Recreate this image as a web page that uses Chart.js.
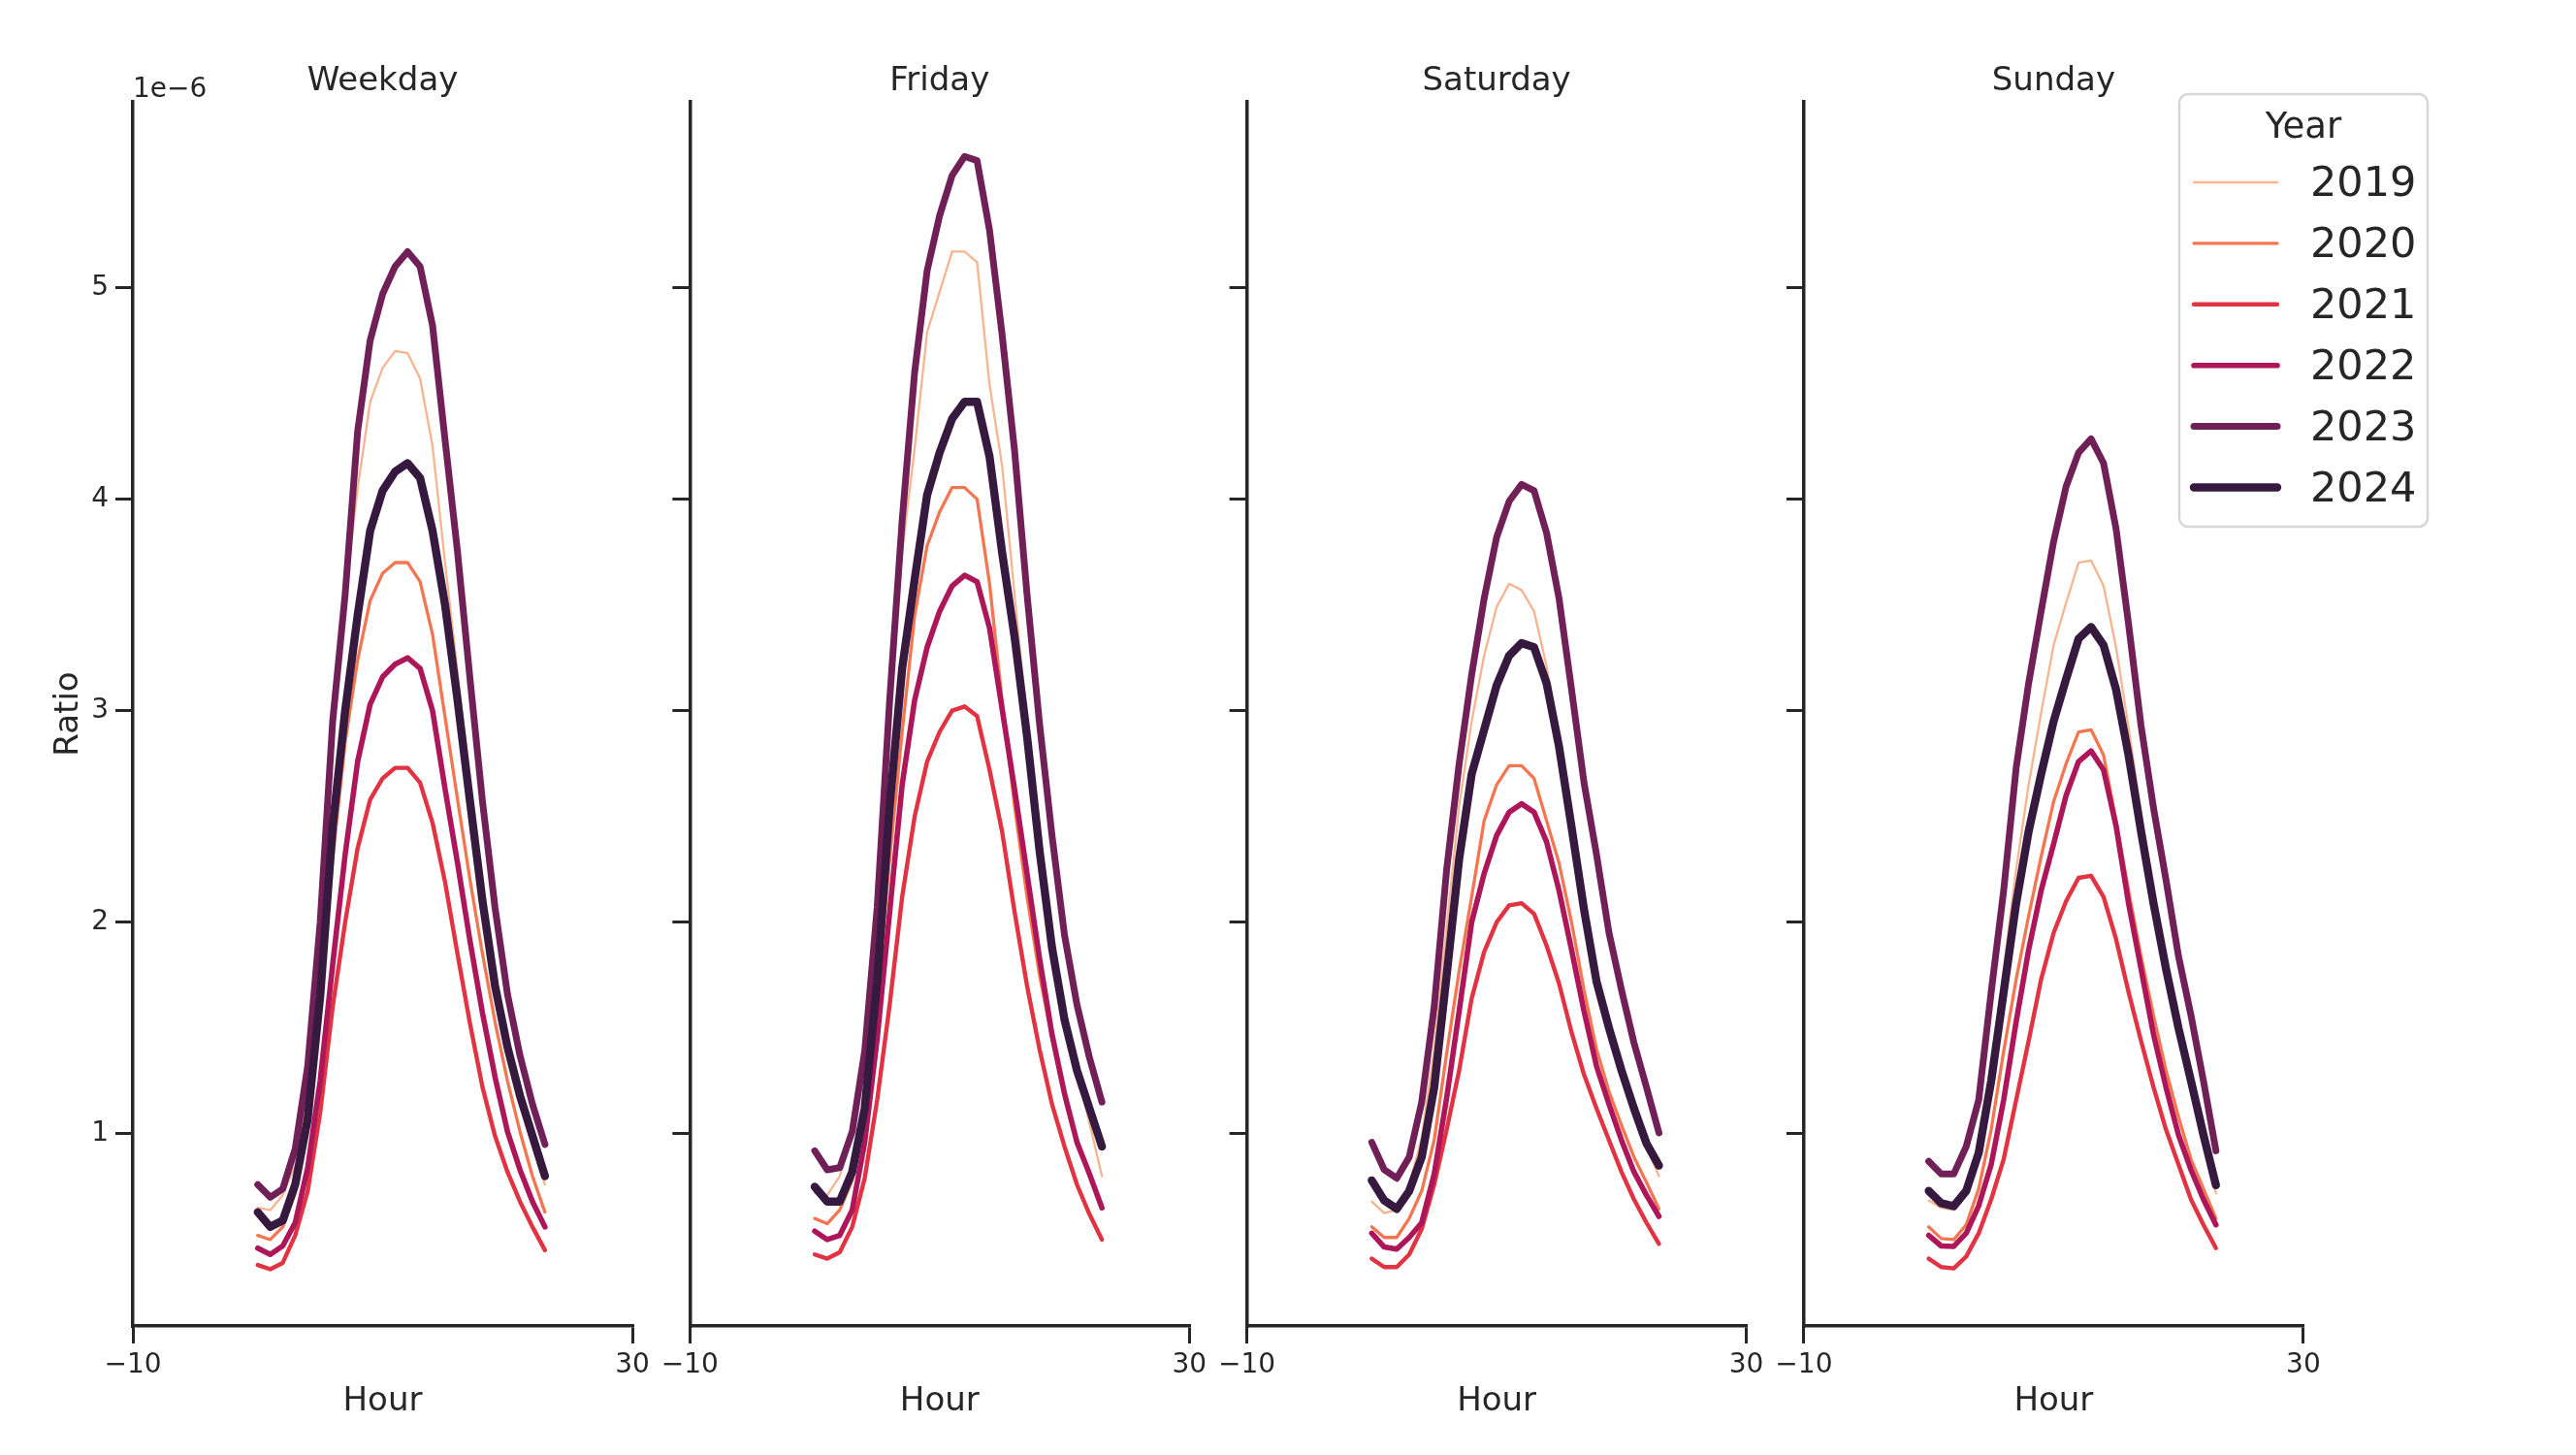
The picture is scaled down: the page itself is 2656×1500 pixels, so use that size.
<!DOCTYPE html>
<html>
<head>
<meta charset="utf-8">
<script src="https://cdn.jsdelivr.net/npm/chart.js@4.4.1/dist/chart.umd.min.js"></script>
<style>
  html, body { margin: 0; padding: 0; background: #fff; }
  #wrap { position: relative; width: 2656px; height: 1500px; }
  #wrap canvas { position: absolute; left: 0; top: 0; }
</style>
</head>
<body>
<div id="wrap">
  <canvas id="c0" width="2656" height="1500"></canvas>
  <canvas id="c1" width="2656" height="1500"></canvas>
  <canvas id="c2" width="2656" height="1500"></canvas>
  <canvas id="c3" width="2656" height="1500"></canvas>
</div>
<script>
//? Data (ratio values in units of 1e-6)
const hours = [0, 1, 2, 3, 4, 5, 6, 7, 8, 9, 10, 11, 12, 13, 14, 15, 16, 17, 18, 19, 20, 21, 22, 23]
const years = ['2019', '2020', '2021', '2022', '2023', '2024']
const panels = ['Weekday', 'Friday', 'Saturday', 'Sunday']
const xTicks = [-10, 30]
const yTicks = [1, 2, 3, 4, 5]

// one row per year, 2019 -> 2024
const weekdayRatio = [
    [0.65, 0.64, 0.71, 0.85, 1.22, 1.90, 2.85, 3.55, 4.05, 4.46, 4.62, 4.70, 4.69, 4.57, 4.25, 3.70, 3.18, 2.65, 2.15, 1.75, 1.42, 1.15, 0.94, 0.76],
    [0.52, 0.50, 0.56, 0.72, 1.05, 1.62, 2.30, 2.85, 3.24, 3.52, 3.65, 3.70, 3.70, 3.61, 3.36, 2.97, 2.58, 2.20, 1.85, 1.53, 1.25, 1.01, 0.80, 0.63],
    [0.38, 0.36, 0.39, 0.52, 0.73, 1.10, 1.60, 2.00, 2.35, 2.58, 2.68, 2.73, 2.73, 2.66, 2.47, 2.19, 1.85, 1.52, 1.22, 0.99, 0.82, 0.68, 0.56, 0.45],
    [0.46, 0.43, 0.47, 0.58, 0.84, 1.25, 1.80, 2.32, 2.76, 3.03, 3.16, 3.22, 3.25, 3.20, 3.00, 2.63, 2.28, 1.91, 1.57, 1.27, 1.01, 0.83, 0.68, 0.56],
    [0.76, 0.70, 0.74, 0.93, 1.32, 2.00, 2.95, 3.55, 4.32, 4.75, 4.97, 5.10, 5.17, 5.10, 4.82, 4.28, 3.75, 3.15, 2.57, 2.07, 1.66, 1.37, 1.14, 0.95],
    [0.63, 0.56, 0.59, 0.76, 1.07, 1.65, 2.45, 3.00, 3.45, 3.85, 4.04, 4.13, 4.17, 4.10, 3.85, 3.50, 3.05, 2.57, 2.10, 1.70, 1.41, 1.18, 0.99, 0.80]
]
const fridayRatio = [
    [0.72, 0.71, 0.80, 1.00, 1.40, 2.10, 3.00, 3.75, 4.24, 4.79, 4.98, 5.17, 5.17, 5.12, 4.54, 4.16, 3.55, 2.95, 2.40, 1.95, 1.60, 1.30, 1.05, 0.80],
    [0.60, 0.575, 0.64, 0.78, 1.10, 1.65, 2.30, 2.90, 3.45, 3.78, 3.94, 4.055, 4.055, 4.00, 3.60, 3.05, 2.55, 2.12, 1.75, 1.45, 1.18, 0.97, 0.80, 0.66],
    [0.43, 0.41, 0.44, 0.56, 0.79, 1.16, 1.61, 2.12, 2.50, 2.76, 2.90, 3.00, 3.02, 2.975, 2.72, 2.43, 2.05, 1.70, 1.40, 1.14, 0.94, 0.76, 0.62, 0.50],
    [0.54, 0.50, 0.52, 0.64, 0.96, 1.45, 2.05, 2.65, 3.05, 3.30, 3.47, 3.59, 3.64, 3.61, 3.39, 3.01, 2.63, 2.23, 1.83, 1.47, 1.19, 0.96, 0.81, 0.65],
    [0.92, 0.83, 0.84, 1.01, 1.39, 2.07, 3.05, 3.90, 4.60, 5.08, 5.34, 5.53, 5.62, 5.60, 5.27, 4.78, 4.23, 3.55, 2.94, 2.41, 1.94, 1.61, 1.36, 1.15],
    [0.75, 0.68, 0.68, 0.82, 1.12, 1.72, 2.55, 3.20, 3.62, 4.02, 4.22, 4.38, 4.46, 4.46, 4.20, 3.75, 3.35, 2.88, 2.34, 1.88, 1.54, 1.30, 1.12, 0.94]
]
const saturdayRatio = [
    [0.68, 0.625, 0.64, 0.76, 0.98, 1.40, 1.98, 2.55, 2.95, 3.26, 3.49, 3.60, 3.57, 3.47, 3.21, 2.88, 2.50, 2.10, 1.76, 1.50, 1.28, 1.10, 0.94, 0.80],
    [0.56, 0.51, 0.51, 0.60, 0.73, 0.97, 1.38, 1.77, 2.12, 2.48, 2.65, 2.74, 2.74, 2.68, 2.48, 2.28, 2.00, 1.68, 1.40, 1.20, 1.04, 0.89, 0.77, 0.645],
    [0.41, 0.37, 0.37, 0.43, 0.55, 0.76, 1.02, 1.30, 1.64, 1.86, 2.00, 2.08, 2.09, 2.04, 1.89, 1.71, 1.48, 1.28, 1.12, 0.97, 0.82, 0.69, 0.58, 0.48],
    [0.53, 0.465, 0.455, 0.51, 0.58, 0.81, 1.17, 1.58, 2.00, 2.23, 2.41, 2.52, 2.56, 2.52, 2.38, 2.15, 1.87, 1.58, 1.32, 1.14, 0.97, 0.82, 0.71, 0.61],
    [0.96, 0.83, 0.79, 0.89, 1.15, 1.60, 2.25, 2.75, 3.17, 3.53, 3.82, 3.99, 4.07, 4.04, 3.84, 3.53, 3.10, 2.66, 2.32, 1.95, 1.68, 1.43, 1.22, 1.005],
    [0.78, 0.685, 0.645, 0.73, 0.89, 1.22, 1.75, 2.30, 2.70, 2.91, 3.12, 3.26, 3.32, 3.30, 3.13, 2.83, 2.45, 2.06, 1.72, 1.50, 1.30, 1.12, 0.955, 0.85]
]
const sundayRatio = [
    [0.685, 0.65, 0.64, 0.75, 0.95, 1.30, 1.78, 2.25, 2.65, 2.99, 3.31, 3.51, 3.70, 3.71, 3.59, 3.30, 2.92, 2.52, 2.14, 1.80, 1.50, 1.22, 0.96, 0.72],
    [0.56, 0.505, 0.50, 0.57, 0.74, 1.02, 1.39, 1.73, 2.03, 2.31, 2.57, 2.75, 2.90, 2.91, 2.79, 2.48, 2.15, 1.84, 1.56, 1.30, 1.08, 0.88, 0.74, 0.60],
    [0.41, 0.37, 0.364, 0.42, 0.53, 0.69, 0.88, 1.16, 1.44, 1.73, 1.95, 2.10, 2.21, 2.22, 2.12, 1.92, 1.67, 1.44, 1.22, 1.02, 0.855, 0.69, 0.57, 0.46],
    [0.52, 0.47, 0.468, 0.53, 0.66, 0.855, 1.16, 1.53, 1.87, 2.15, 2.37, 2.60, 2.76, 2.81, 2.72, 2.455, 2.09, 1.78, 1.47, 1.22, 0.995, 0.83, 0.69, 0.57],
    [0.87, 0.81, 0.81, 0.94, 1.16, 1.67, 2.15, 2.73, 3.13, 3.47, 3.80, 4.06, 4.22, 4.285, 4.17, 3.86, 3.41, 2.93, 2.54, 2.20, 1.84, 1.56, 1.25, 0.92],
    [0.73, 0.672, 0.658, 0.73, 0.91, 1.25, 1.67, 2.09, 2.43, 2.70, 2.95, 3.15, 3.34, 3.396, 3.31, 3.10, 2.79, 2.43, 2.09, 1.78, 1.50, 1.25, 0.995, 0.757]
]
const panelData = [weekdayRatio, fridayRatio, saturdayRatio, sundayRatio]

//? Styling
const colors = ['#f6b48f', '#f37651', '#e13342', '#ad1759', '#701f57', '#35193e']
const widths = [2.3, 3.3, 4.4, 5.6, 7.0, 8.4]
const ink = '#262626'
const font = "'DejaVu Sans', sans-serif"

const panelLeft = [137, 711.3, 1285.6, 1859.9]
const plotW = 515
const plotTop = 105
const plotBottom = 1367
const yAxisW = 100
const xAxisH = 110

Chart.defaults.font.family = font
Chart.defaults.color = ink

function drawLegend(chart) {
    const ctx = chart.ctx
    const x0 = 2247, y0 = 97, w = 256, h = 446, r = 9
    ctx.save()
    ctx.beginPath()
    ctx.roundRect(x0, y0, w, h, r)
    ctx.fillStyle = 'rgba(255,255,255,0.8)'
    ctx.fill()
    ctx.lineWidth = 2.5
    ctx.strokeStyle = '#d6d6d6'
    ctx.stroke()

    ctx.fillStyle = ink
    ctx.textBaseline = 'middle'
    ctx.textAlign = 'center'
    ctx.font = '37px ' + font
    ctx.fillText('Year', 2375, 132)

    ctx.textAlign = 'left'
    ctx.font = '43px ' + font
    chart.data.datasets.forEach((ds, i) => {
        const y = 188 + 62.9 * i
        ctx.beginPath()
        ctx.moveTo(2262, y)
        ctx.lineTo(2348, y)
        ctx.lineWidth = ds.borderWidth
        ctx.strokeStyle = ds.borderColor
        ctx.lineCap = 'round'
        ctx.stroke()
        ctx.fillText(ds.label, 2382, y + 3)
    })
    ctx.restore()
}

const panelText = {
    id: 'panelText',
    afterDraw(chart, args, opts) {
        const ctx = chart.ctx
        const a = chart.chartArea
        ctx.save()
        ctx.fillStyle = ink
        ctx.textBaseline = 'middle'
        ctx.textAlign = 'center'
        ctx.font = '34px ' + font
        ctx.fillText(opts.title, (a.left + a.right) / 2, 84)
        if (opts.offset) {
            ctx.textAlign = 'left'
            ctx.font = '28px ' + font
            ctx.fillText('1e\u22126', a.left, 93)
        }
        ctx.restore()
        if (opts.legend) drawLegend(chart)
    }
}

const axisGrid = { drawOnChartArea: false, drawTicks: true, tickLength: 18, tickWidth: 3, lineWidth: 3, color: ink, tickColor: ink }
const axisBorder = { display: true, color: ink, width: 3.5 }

panels.forEach((name, p) => {
    const first = p === 0
    const rows = panelData[p]

    const datasets = years.map((yr, i) => ({
        label: yr,
        data: hours.map((h, k) => ({ x: h, y: rows[i][k] })),
        borderColor: colors[i],
        backgroundColor: colors[i],
        borderWidth: widths[i],
        borderCapStyle: 'round',
        borderJoinStyle: 'round',
        pointRadius: 0,
        tension: 0,
        fill: false,
        order: years.length - 1 - i
    }))

    const config = {
        type: 'line',
        data: { datasets },
        options: {
            responsive: false,
            animation: false,
            devicePixelRatio: 1,
            layout: {
                padding: {
                    left: panelLeft[p] - yAxisW,
                    right: 2656 - (panelLeft[p] + plotW),
                    top: plotTop,
                    bottom: 1500 - plotBottom - xAxisH
                }
            },
            plugins: {
                legend: { display: false },
                tooltip: { enabled: false },
                title: { display: false },
                panelText: { title: name, offset: first, legend: p === panels.length - 1 }
            },
            scales: {
                x: {
                    type: 'linear',
                    min: -10,
                    max: 30,
                    afterBuildTicks: s => { s.ticks = xTicks.map(v => ({ value: v })) },
                    afterFit: s => { s.height = xAxisH; s.paddingLeft = 0; s.paddingRight = 0 },
                    grid: axisGrid,
                    border: axisBorder,
                    ticks: {
                        font: { size: 28 },
                        color: ink,
                        padding: 6,
                        maxRotation: 0,
                        autoSkip: false,
                        callback: v => String(v).replace('-', '\u2212')
                    },
                    title: { display: true, text: 'Hour', font: { size: 34 }, color: ink, padding: { top: 0, bottom: 11 } }
                },
                y: {
                    type: 'linear',
                    min: 0.0917,
                    max: 5.878,
                    afterBuildTicks: s => { s.ticks = yTicks.map(v => ({ value: v })) },
                    afterFit: s => { s.width = yAxisW; s.paddingTop = 0; s.paddingBottom = 0 },
                    grid: axisGrid,
                    border: axisBorder,
                    ticks: { font: { size: 28 }, color: first ? ink : 'rgba(0,0,0,0)', padding: 7 },
                    title: { display: first, text: 'Ratio', font: { size: 34 }, color: ink, padding: { top: 13.6, bottom: 0 } }
                }
            }
        },
        plugins: [panelText]
    }

    new Chart(document.getElementById('c' + p), config)
})
</script>
</body>
</html>
